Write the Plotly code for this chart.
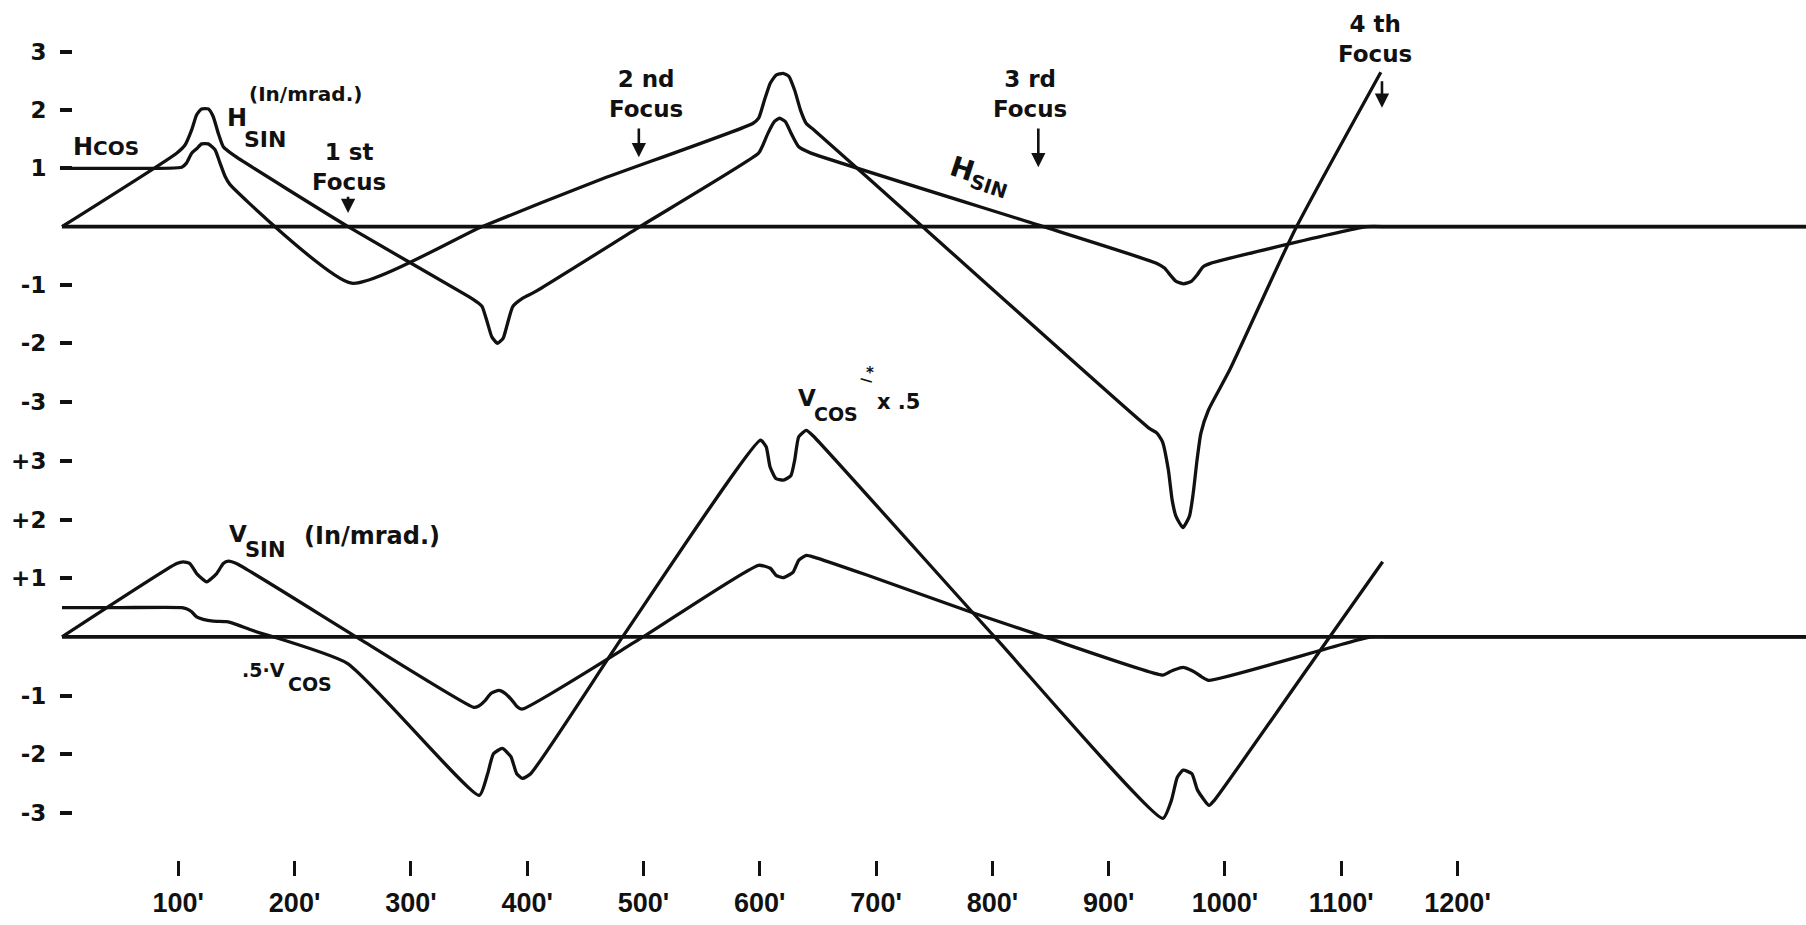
import plotly.graph_objects as go

# ---- horizontal plane (in/mrad), distance in feet ----
hcos_x = [0, 50, 103, 107, 111.5, 116, 120, 125.8, 131.6, 135.9, 140.3, 144.5, 249, 361, 462,
          594, 599, 604, 609, 614, 620, 625, 630, 635, 640, 646.6, 740, 935, 941.5, 946.3,
          951.3, 954.6, 957.9, 963.8, 969.4, 972.7, 976, 979.3, 985.9, 1004, 1060, 1134]
hcos_y = [1.0, 1.0, 1.02, 1.09, 1.26, 1.34, 1.42, 1.42, 1.32, 1.09, 0.86, 0.72, -0.97, 0.0, 0.80,
          1.77, 1.86, 2.17, 2.46, 2.60, 2.63, 2.58, 2.34, 2.0, 1.77, 1.66, 0.0, -3.46, -3.54, -3.69,
          -4.17, -4.69, -4.97, -5.16, -4.97, -4.57, -4.0, -3.54, -3.14, -2.46, -0.06, 2.65]

hsin_x = [0, 98.6, 105.8, 111.5, 115.8, 120, 125.8, 130, 134.4, 138.7, 147.3, 246, 349.8, 358,
          361.3, 366, 369.6, 374.5, 379.4, 382.7, 387.6, 395.9, 407.4, 497, 599, 602, 607, 612.5,
          617, 622, 627, 633.5, 643, 844, 941.5, 948, 953, 958, 964.5, 971, 976, 981, 987.5,
          1122, 1140, 1200, 1500]
hsin_y = [0, 1.26, 1.40, 1.66, 1.92, 2.02, 2.02, 1.89, 1.60, 1.37, 1.23, 0.0, -1.20, -1.31,
          -1.37, -1.66, -1.89, -2.0, -1.91, -1.69, -1.37, -1.23, -1.11, 0.0, 1.26, 1.37, 1.60, 1.80,
          1.86, 1.80, 1.60, 1.37, 1.27, 0.0, -0.63, -0.71, -0.83, -0.94, -0.98, -0.94, -0.83, -0.69, -0.63,
          0.0, 0.0, 0.0, 0.0]

# ---- vertical plane ----
vsin_x = [0, 98.6, 104.3, 110, 115.8, 124.4, 133, 138.7, 143, 150, 253, 354, 358, 364, 369,
          375.7, 381, 387, 391, 395.5, 499.6, 599, 609, 614, 620, 628.5, 633.6, 640, 646.6,
          692.7, 785, 845, 946.6, 952, 956.6, 964, 969, 974, 980, 986, 1125.6, 1145, 1200, 1500]
vsin_y = [0, 1.25, 1.28, 1.25, 1.08, 0.94, 1.08, 1.25, 1.29, 1.25, 0.0, -1.20, -1.18, -1.08, -0.96,
          -0.91, -0.96, -1.08, -1.18, -1.23, 0.0, 1.22, 1.17, 1.05, 1.01, 1.10, 1.31, 1.39, 1.36,
          1.05, 0.40, 0.0, -0.65, -0.60, -0.56, -0.52, -0.55, -0.60, -0.68, -0.74, 0.0, 0.0, 0.0, 0.0]

vcos_x = [0, 50, 103, 107, 111.5, 115.8, 121.4, 130, 141.6, 147.3, 164, 245.3, 358.8, 366, 371,
          378.6, 386, 391, 396, 403, 482, 600.6, 605.5, 608.8, 613.8, 620.3, 626.8, 630, 633.5,
          640, 646.6, 802, 946.6, 954, 959, 964, 971.5, 976.4, 986.3, 991, 1090, 1135.6]
vcos_y = [0.5, 0.5, 0.5, 0.48, 0.43, 0.34, 0.30, 0.27, 0.26, 0.23, 0.11, -0.45, -2.70, -2.33, -1.99,
          -1.90, -2.04, -2.33, -2.41, -2.33, 0.0, 3.35, 3.24, 2.90, 2.70, 2.67, 2.75, 3.01, 3.41,
          3.52, 3.41, 0.0, -3.09, -2.78, -2.39, -2.27, -2.33, -2.61, -2.87, -2.78, 0.0, 1.28]

base_x = [0, 1500]
base_y = [0, 0]

x_ticks = [100, 200, 300, 400, 500, 600, 700, 800, 900, 1000, 1100, 1200]
x_ticktext = [f"{v}'" for v in x_ticks]
top_ticks = [3, 2, 1, -1, -2, -3]
top_ticktext = ["3", "2", "1", "-1", "-2", "-3"]
bot_ticks = [3, 2, 1, -1, -2, -3]
bot_ticktext = ["+3", "+2", "+1", "-1", "-2", "-3"]

INK = "#111111"
LABEL_FONT = "DejaVu Sans, Verdana, sans-serif"
TICK_FONT = "Liberation Sans, Arial, sans-serif"

fig = go.Figure()

curve = dict(color=INK, width=3.3, shape="spline", smoothing=0.5)
base = dict(color=INK, width=3.7)

fig.add_trace(go.Scatter(x=base_x, y=base_y, yaxis="y", mode="lines", line=base, hoverinfo="skip"))
fig.add_trace(go.Scatter(x=hsin_x, y=hsin_y, yaxis="y", mode="lines", line=curve, name="H_SIN"))
fig.add_trace(go.Scatter(x=hcos_x, y=hcos_y, yaxis="y", mode="lines", line=curve, name="H_COS"))
fig.add_trace(go.Scatter(x=base_x, y=base_y, yaxis="y2", mode="lines", line=base, hoverinfo="skip"))
fig.add_trace(go.Scatter(x=vsin_x, y=vsin_y, yaxis="y2", mode="lines", line=curve, name="V_SIN"))
fig.add_trace(go.Scatter(x=vcos_x, y=vcos_y, yaxis="y2", mode="lines", line=curve, name="0.5 V_COS"))


def label(text, x, y, yref="y", size=23, xanchor="left", yanchor="middle", angle=0):
    return dict(text=text, x=x, y=y, xref="x", yref=yref, showarrow=False,
                xanchor=xanchor, yanchor=yanchor, textangle=angle,
                font=dict(family=LABEL_FONT, size=size, color=INK, weight="bold"))


def arrow(x, y_tail, y_tip):
    return dict(text="", x=x, y=y_tip, ax=x, ay=y_tail, xref="x", yref="y",
                axref="x", ayref="y", showarrow=True, arrowhead=2, arrowsize=1.1,
                arrowwidth=2.6, arrowcolor=INK, standoff=0, startstandoff=0)


annotations = [
    # horizontal plane labels
    label("H<span style='font-size:20px'>COS</span>", 8.0, 1.37, size=24),
    label("H", 140, 1.87, size=24),
    label("SIN", 154.5, 1.50, size=22),
    label("(In/mrad.)", 159, 2.28, size=20),
    label("1 st<br>Focus", 247, 1.02, xanchor="center"),
    label("2 nd<br>Focus", 502, 2.28, xanchor="center"),
    label("3 rd<br>Focus", 832, 2.28, xanchor="center"),
    label("4 th<br>Focus", 1129, 3.22, xanchor="center"),
    label("H<sub>SIN</sub>", 789, 0.86, size=28, xanchor="center", angle=18),
    arrow(246, 0.54, 0.235),
    arrow(496, 1.71, 1.19),
    arrow(839.5, 1.71, 1.02),
    arrow(1135, 2.52, 2.04),
    # vertical plane labels
    label("V", 631, 4.07, yref="y2", size=23),
    label("COS", 645, 3.80, yref="y2", size=19),
    label("x .5", 699, 4.0, yref="y2", size=21),
    label("*", 695, 4.50, yref="y2", size=15, xanchor="center"),
    label("\u2014", 692, 4.38, yref="y2", size=13, xanchor="center", angle=16),
    label("V", 142, 1.76, yref="y2", size=23),
    label("SIN", 156, 1.48, yref="y2", size=21),
    label("(In/mrad.)", 206, 1.72, yref="y2", size=24),
    label(".5\u00b7V", 153, -0.57, yref="y2", size=19),
    label("COS", 193, -0.81, yref="y2", size=19),
]

y_common = dict(showgrid=False, zeroline=False, showline=False, ticks="outside", ticklen=12,
                tickwidth=3.5, tickcolor=INK,
                tickfont=dict(family=LABEL_FONT, size=23, color=INK, weight="bold"),
                anchor="free", position=72 / 1806, ticklabelstandoff=9, automargin=False,
                fixedrange=True)

fig.update_layout(
    template="none",
    width=1806, height=925,
    margin=dict(l=0, r=0, t=0, b=65),
    paper_bgcolor="white", plot_bgcolor="white",
    showlegend=False,
    xaxis=dict(range=[-53.3, 1499.6], showgrid=False, zeroline=False, showline=False,
               ticks="outside", ticklen=15, tickwidth=3, tickcolor=INK,
               tickvals=x_ticks, ticktext=x_ticktext, ticklabelstandoff=4,
               tickfont=dict(family=TICK_FONT, size=27, color=INK, weight="bold"),
               automargin=False),
    yaxis=dict(range=[-10.863, 3.888], tickvals=top_ticks, ticktext=top_ticktext, **y_common),
    yaxis2=dict(range=[-3.80, 10.85], tickvals=bot_ticks, ticktext=bot_ticktext,
                overlaying="y", **y_common),
    annotations=annotations,
)

fig.write_html("out.html")
